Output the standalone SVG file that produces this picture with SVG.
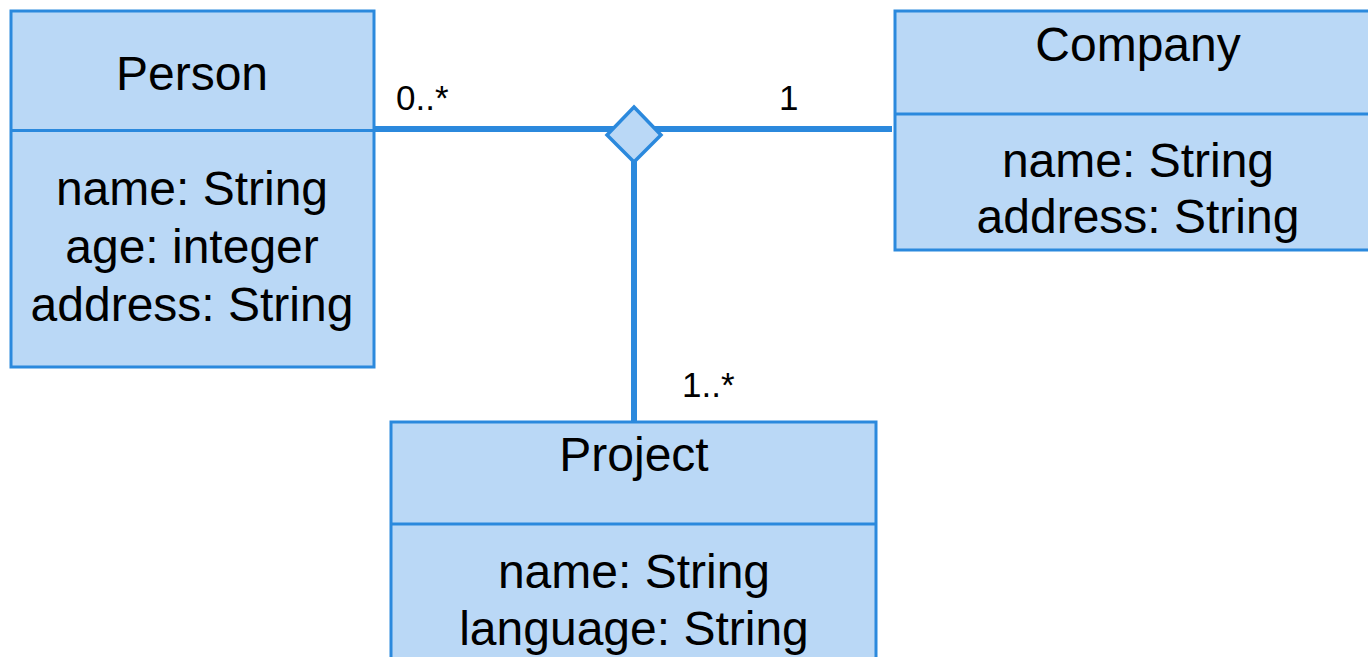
<svg xmlns="http://www.w3.org/2000/svg" width="1368" height="657" viewBox="0 0 1368 657">
<style>
.box{fill:#bad8f6;stroke:#2b89dd;stroke-width:3}
.div{stroke:#2b89dd;stroke-width:3}
.t{font-family:"Liberation Sans",Arial,sans-serif;font-size:48px;fill:#000;text-anchor:middle}
.lbl{font-family:"Liberation Sans",Arial,sans-serif;font-size:35px;fill:#000}
.conn{stroke:#2b89dd;stroke-width:6;fill:none}
</style>
<rect width="1368" height="657" fill="#fff"/>
<g id="connectors">
<line class="conn" x1="374" y1="129" x2="892" y2="129"/>
<line class="conn" x1="634" y1="160" x2="634" y2="421"/>
<polygon points="634,107 661,135 634,162 607,135" fill="#bad8f6" stroke="#2b89dd" stroke-width="3.5" stroke-linejoin="miter"/>
<text class="lbl" x="396" y="110">0..*</text>
<text class="lbl" x="779" y="110">1</text>
<text class="lbl" x="682" y="397">1..*</text>
</g>
<g id="person">
<rect class="box" x="11" y="11" width="363" height="356"/>
<line class="div" x1="12" y1="130.5" x2="374" y2="130.5"/>
<text class="t" x="192" y="90">Person</text>
<text class="t" x="192" y="205">name: String</text>
<text class="t" x="192" y="263">age: integer</text>
<text class="t" x="192" y="321">address: String</text>
</g>
<g id="company">
<rect class="box" x="895" y="11" width="484" height="239"/>
<line class="div" x1="896" y1="114" x2="1380" y2="114"/>
<text class="t" x="1138" y="61">Company</text>
<text class="t" x="1138" y="177">name: String</text>
<text class="t" x="1138" y="233">address: String</text>
</g>
<g id="project">
<rect class="box" x="391" y="422" width="485" height="250"/>
<line class="div" x1="392" y1="524" x2="875" y2="524"/>
<text class="t" x="634" y="471">Project</text>
<text class="t" x="634" y="588">name: String</text>
<text class="t" x="634" y="645">language: String</text>
</g>
</svg>
